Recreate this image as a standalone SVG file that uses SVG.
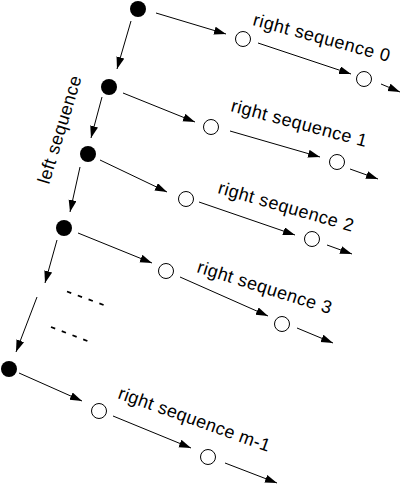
<svg xmlns="http://www.w3.org/2000/svg" width="410" height="484" viewBox="0 0 410 484">
<style>
.ln{stroke:#000;stroke-width:1;fill:none;marker-end:url(#ah)}
.dash{stroke:#000;stroke-width:1.8;fill:none;stroke-dasharray:4.5 7}
.bk{fill:#000}
.op{fill:#fff;stroke:#000;stroke-width:1}
.lb{font-family:"Liberation Sans",Arial,sans-serif;font-size:18px;fill:#000}
</style>
<defs>
<marker id="ah" markerWidth="13" markerHeight="9" refX="12" refY="4" orient="auto" markerUnits="userSpaceOnUse"><path d="M0,0 L12,4 L0,8 z" fill="#000"/></marker>
</defs>
<rect width="410" height="484" fill="#fff"/>
<g id="connectors">
<line class="ln" x1="131" y1="21" x2="117" y2="69"/>
<line class="ln" x1="102" y1="97" x2="91" y2="138"/>
<line class="ln" x1="80" y1="167" x2="70" y2="212"/>
<line class="ln" x1="57" y1="240" x2="45" y2="283"/>
<line class="ln" x1="37" y1="297" x2="16" y2="352"/>
<line class="ln" x1="156" y1="13" x2="226" y2="34"/>
<line class="ln" x1="258" y1="43" x2="351" y2="74"/>
<line class="ln" x1="381" y1="84" x2="400" y2="92"/>
<line class="ln" x1="123" y1="93" x2="195" y2="122"/>
<line class="ln" x1="230" y1="131" x2="320" y2="157"/>
<line class="ln" x1="350" y1="169" x2="378" y2="179"/>
<line class="ln" x1="100" y1="160" x2="167" y2="192"/>
<line class="ln" x1="199" y1="202" x2="295" y2="235"/>
<line class="ln" x1="327" y1="245" x2="352" y2="254"/>
<line class="ln" x1="78" y1="233" x2="152" y2="263"/>
<line class="ln" x1="180" y1="277" x2="268" y2="316"/>
<line class="ln" x1="297" y1="328" x2="333" y2="343"/>
<line class="ln" x1="19" y1="373" x2="82" y2="401"/>
<line class="ln" x1="113" y1="416" x2="191" y2="448"/>
<line class="ln" x1="225" y1="463" x2="277" y2="483"/>
<line class="dash" x1="67" y1="291.5" x2="105" y2="305.5"/>
<line class="dash" x1="51" y1="327" x2="90" y2="342"/>
</g>
<g id="b0"><circle class="bk" cx="138" cy="9" r="8"/></g>
<g id="b1"><circle class="bk" cx="109" cy="87" r="8"/></g>
<g id="b2"><circle class="bk" cx="88" cy="154" r="8"/></g>
<g id="b3"><circle class="bk" cx="64" cy="228" r="8"/></g>
<g id="b4"><circle class="bk" cx="9" cy="369" r="8"/></g>
<g id="r0n1"><circle class="op" cx="243" cy="39" r="7.5"/></g>
<g id="r0n2"><circle class="op" cx="364" cy="79" r="7.5"/></g>
<g id="r1n1"><circle class="op" cx="211" cy="127" r="7.5"/></g>
<g id="r1n2"><circle class="op" cx="337" cy="162" r="7.5"/></g>
<g id="r2n1"><circle class="op" cx="186" cy="199" r="7.5"/></g>
<g id="r2n2"><circle class="op" cx="312" cy="239" r="7.5"/></g>
<g id="r3n1"><circle class="op" cx="166" cy="271" r="7.5"/></g>
<g id="r3n2"><circle class="op" cx="282" cy="324" r="7.5"/></g>
<g id="r4n1"><circle class="op" cx="99" cy="411" r="7.5"/></g>
<g id="r4n2"><circle class="op" cx="208" cy="457" r="7.5"/></g>
<g id="labels">
<text class="lb" transform="translate(49,185) rotate(-73)" textLength="112" lengthAdjust="spacing">left sequence</text>
<text class="lb" transform="translate(252,25) rotate(15.2)" textLength="141" lengthAdjust="spacing">right sequence 0</text>
<text class="lb" transform="translate(230,111) rotate(14.9)" textLength="140" lengthAdjust="spacing">right sequence 1</text>
<text class="lb" transform="translate(217,193) rotate(16.1)" textLength="140" lengthAdjust="spacing">right sequence 2</text>
<text class="lb" transform="translate(196,272) rotate(17.5)" textLength="140" lengthAdjust="spacing">right sequence 3</text>
<text class="lb" transform="translate(117,398) rotate(19.7)" textLength="160" lengthAdjust="spacing">right sequence m-1</text>
</g>
</svg>
